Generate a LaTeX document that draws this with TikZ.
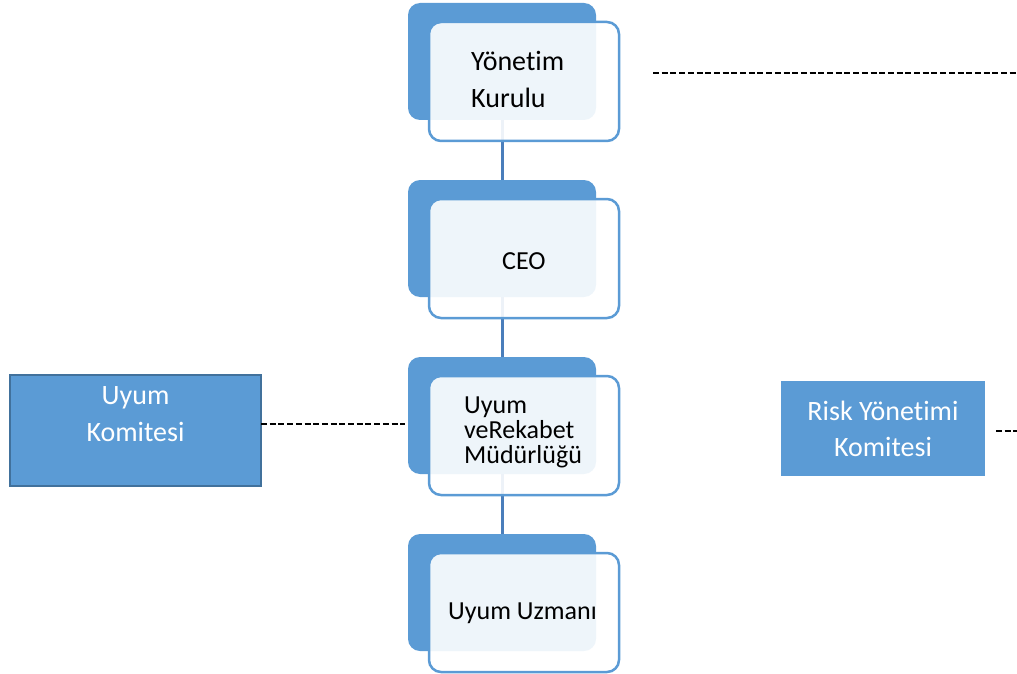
\documentclass[tikz,border=0pt]{standalone}
\usepackage{fontspec}
\setmainfont{Carlito}[Ligatures={NoCommon}]
\definecolor{accent}{HTML}{5B9BD5}
\definecolor{accentdark}{HTML}{41719C}
\definecolor{linkblue}{HTML}{4A7EBB}
\begin{document}
\begin{tikzpicture}[x=1pt,y=-1pt,
  backbox/.style={fill=accent, draw=none, rounded corners=12pt, inner sep=0pt, outer sep=0pt,
    minimum width=188pt, minimum height=117pt, anchor=north west},
  frontbox/.style={fill=white, fill opacity=0.9, draw=accent, line width=2.5pt, rounded corners=12pt,
    inner sep=0pt, outer sep=0pt, minimum width=190pt, minimum height=119pt, anchor=north west},
  link/.style={draw=linkblue, line width=3pt},
  dashlink/.style={draw=black, line width=1.8pt, dash pattern=on 6pt off 2.7pt},
  blocktext/.style={anchor=west, align=left, inner sep=0pt, text=black},
  bigtxt/.style={font=\fontsize{28}{37}\selectfont},
  midtxt/.style={font=\fontsize{26}{32}\selectfont},
  tighttxt/.style={font=\fontsize{26}{25}\selectfont},
  committee/.style={fill=accent, inner sep=0pt, outer sep=0pt, anchor=north west}
]
\useasboundingbox (0,0) rectangle (1017,674);

% back boxes
\node[backbox] (b1back) at (408,3) {};
\node[backbox] (b2back) at (408,180) {};
\node[backbox] (b3back) at (408,357) {};
\node[backbox] (b4back) at (408,534) {};

% connectors
\draw[link] (b1back.south) -- (b2back.north);
\draw[link] (b2back.south) -- (b3back.north);
\draw[link] (b3back.south) -- (b4back.north);

% front boxes
\node[frontbox] (b1front) at (429,22) {};
\node[frontbox] (b2front) at (429,199) {};
\node[frontbox] (b3front) at (429,376) {};
\node[frontbox] (b4front) at (429,553) {};

% block texts
\node[blocktext, bigtxt] (t1) at (471,79) {Yönetim\\Kurulu};
\node[blocktext, midtxt] (t2) at (502,261) {CEO};
\node[blocktext, tighttxt] (t3) at (464,432) {Uyum\\veRekabet\\Müdürlüğü};
\node[blocktext, midtxt] (t4) at (448,613) {Uyum Uzmanı};

% Uyum Komitesi
\node[committee, draw=accentdark, line width=2.2pt, minimum width=251pt, minimum height=111pt] (uk) at (10,375) {};
\node[bigtxt, text=white, align=center, inner sep=0pt] (uktext) at (135.5,414) {Uyum\\Komitesi};

% Risk Yönetimi Komitesi
\node[committee, minimum width=204pt, minimum height=95pt] (rk) at (781,381) {};
\node[bigtxt, text=white, align=center, inner sep=0pt, font=\fontsize{28}{36}\selectfont] (rktext) at (rk.center) {Risk Yönetimi\\Komitesi};

% dashed links
\coordinate (ukend) at (405,424);
\draw[dashlink] (uk.east |- ukend) -- (ukend);
\coordinate (topa) at (653,73);
\coordinate (topb) at (1017,73);
\draw[dashlink] (topa) -- (topb);
\coordinate (rka) at (996,431);
\coordinate (rkb) at (1017,431);
\draw[dashlink] (rka) -- (rkb);
\end{tikzpicture}
\end{document}
